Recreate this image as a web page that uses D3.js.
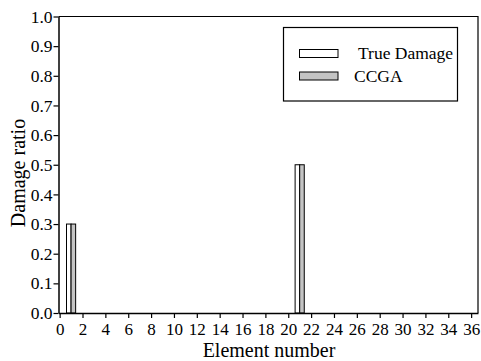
<!DOCTYPE html>
<html>
<head>
<meta charset="utf-8">
<script src="https://cdn.jsdelivr.net/npm/d3@7"></script>
<style>
  body { margin: 0; background: #fff; }
  svg { display: block; font-family: "Liberation Serif", "DejaVu Serif", serif; }
  svg text { font-family: "Liberation Serif", "DejaVu Serif", serif !important; }
</style>
</head>
<body>
<svg id="chart" width="481" height="361"></svg>
<script>
// Element numbers and damage ratios per series
const elements = d3.range(1, 37);
const trueDamage = [0.3,0,0,0,0,0,0,0,0,0,0,0,0,0,0,0,0,0,0,0,0.5,0,0,0,0,0,0,0,0,0,0,0,0,0,0,0];
const ccga       = [0.3,0,0,0,0,0,0,0,0,0,0,0,0,0,0,0,0,0,0,0,0.5,0,0,0,0,0,0,0,0,0,0,0,0,0,0,0];
const seriesNames = ["True Damage", "CCGA"];
const xTicks = d3.range(0, 37, 2);
const yTicks = d3.range(0, 11).map(i => i / 10);

const svg = d3.select("#chart");
const plotLeft = 58.5, plotRight = 478, plotTop = 16.5, plotBottom = 313;

const x = d3.scaleLinear().domain([-0.1, 36.6]).range([plotLeft, plotRight]);
const y = d3.scaleLinear().domain([0, 1]).range([plotBottom, plotTop]);
const fills = ["#ffffff", "#c4c4c4"];
const barW = 0.4;

// Bars: white for true damage (left half), grey for CCGA (right half)
const series = [trueDamage, ccga];
series.forEach((vals, s) => {
  svg.append("g").selectAll("rect")
    .data(elements.map((e, i) => ({ e, v: vals[i] })).filter(d => d.v > 0))
    .join("rect")
    .attr("x", d => x(d.e - barW + s * barW))
    .attr("width", d => x(d.e + barW) - x(d.e))
    .attr("y", d => y(d.v))
    .attr("height", d => y(0) - y(d.v))
    .attr("fill", fills[s])
    .attr("stroke", "#000")
    .attr("stroke-width", 1);
});

// Frame: top and right edges
svg.append("path")
  .attr("d", `M${plotLeft},${plotTop}H${plotRight}V${plotBottom}`)
  .attr("fill", "none").attr("stroke", "#000").attr("stroke-width", 1.2);

// Axes
const xAxis = svg.append("g")
  .attr("transform", `translate(0,${plotBottom})`)
  .call(d3.axisBottom(x).tickValues(xTicks).tickFormat(d3.format("d")).tickSize(5).tickSizeOuter(0));
const yAxis = svg.append("g")
  .attr("transform", `translate(${plotLeft},0)`)
  .call(d3.axisLeft(y).tickValues(yTicks).tickFormat(d3.format(".1f")).tickSize(5).tickSizeOuter(0));

[xAxis, yAxis].forEach(g => {
  g.attr("font-family", "Liberation Serif").attr("font-size", 17);
  g.select(".domain").attr("stroke", "#000").attr("stroke-width", 1.5);
  g.selectAll(".tick line").attr("stroke", "#000").attr("stroke-width", 1.2);
  g.selectAll(".tick text").attr("fill", "#000").attr("font-size", 17.5);
});
xAxis.selectAll(".tick text").attr("font-size", 17).attr("dy", "0.71em").attr("y", 10);
yAxis.selectAll(".tick text").attr("x", -6);

// Axis titles
svg.append("text")
  .attr("x", 269).attr("y", 357)
  .attr("text-anchor", "middle").attr("font-size", 20)
  .text("Element number");
svg.append("text")
  .attr("transform", "translate(25,173) rotate(-90)")
  .attr("text-anchor", "middle").attr("font-size", 20)
  .text("Damage ratio");

// Legend
const lg = svg.append("g");
lg.append("rect").attr("x", 283.5).attr("y", 27.5).attr("width", 174).attr("height", 73.5)
  .attr("fill", "#fff").attr("stroke", "#000").attr("stroke-width", 1.2);
const legendRows = [{ y: 49.5, tx: 358, ty: 59 }, { y: 72, tx: 354, ty: 81.5 }];
seriesNames.forEach((name, i) => {
  lg.append("rect").attr("x", 299.5).attr("y", legendRows[i].y).attr("width", 38.5).attr("height", 8)
    .attr("fill", fills[i]).attr("stroke", "#000").attr("stroke-width", 1);
  lg.append("text").attr("x", legendRows[i].tx).attr("y", legendRows[i].ty)
    .attr("font-size", 17.5).text(name);
});
</script>
</body>
</html>
